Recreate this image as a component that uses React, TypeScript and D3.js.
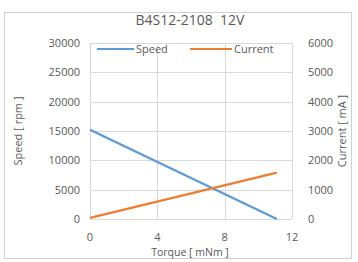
import React from 'react';
import * as d3 from 'd3';

const torque = [0, 11.1];
const speed = [15200, 0];
const current = [40, 1580];

const xTicks = [0, 4, 8, 12];
const speedTicks = [0, 5000, 10000, 15000, 20000, 25000, 30000];
const currentTicks = [0, 1000, 2000, 3000, 4000, 5000, 6000];

const W = 358;
const H = 262;
const font = "'Open Sans', 'Noto Sans', sans-serif";
const grey = '#595959';

const App: React.FC = () => {
  const x = d3.scaleLinear().domain([0, 12]).range([90, 292]);
  const yL = d3.scaleLinear().domain([0, 30000]).range([219, 43]);
  const yR = d3.scaleLinear().domain([0, 6000]).range([219, 43]);

  const speedPts = torque.map((t, i) => [x(t), yL(speed[i])] as [number, number]);
  const currentPts = torque.map((t, i) => [x(t), yR(current[i])] as [number, number]);
  const line = d3.line();

  return (
    <svg width={W} height={H} style={{ position: 'absolute', left: 0, top: 0 }} fontFamily={font}>
      <rect x={0} y={0} width={W} height={H} fill="#fff" />
      {/* chart frame */}
      <rect x={4.5} y={12.5} width={347} height={246} fill="#fff" stroke="#d0d0d0" />

      <text x={190} y={25} textAnchor="middle" fontSize={14} fill={grey}>
        B4S12-2108{'\u00a0\u00a0'}12V
      </text>

      {/* gridlines */}
      {speedTicks.map(t => (
        <line key={'h' + t} x1={90} x2={292} y1={Math.round(yL(t)) + 0.5} y2={Math.round(yL(t)) + 0.5} stroke="#d9d9d9" />
      ))}
      {xTicks.map(t => (
        <line key={'v' + t} x1={Math.round(x(t)) + 0.5} x2={Math.round(x(t)) + 0.5} y1={43} y2={219} stroke="#d9d9d9" />
      ))}

      {/* series */}
      <path d={line(speedPts) || ''} fill="none" stroke="#5b9bd5" strokeWidth={2.2} />
      <path d={line(currentPts) || ''} fill="none" stroke="#ed7d31" strokeWidth={2.2} />

      {/* left axis */}
      {speedTicks.map(t => (
        <text key={'l' + t} x={80} y={yL(t) + 4} textAnchor="end" fontSize={11} fill={grey}>
          {t}
        </text>
      ))}
      {/* right axis */}
      {currentTicks.map(t => (
        <text key={'r' + t} x={308} y={yR(t) + 4} textAnchor="start" fontSize={11} fill={grey}>
          {t}
        </text>
      ))}
      {/* x axis */}
      {xTicks.map(t => (
        <text key={'x' + t} x={x(t)} y={241} textAnchor="middle" fontSize={11} fill={grey}>
          {t}
        </text>
      ))}

      <text x={190} y={256} textAnchor="middle" fontSize={10.5} fill={grey}>Torque [ mNm ]</text>
      <text transform="translate(22,131) rotate(-90)" textAnchor="middle" fontSize={11} fill={grey}>Speed [ rpm ]</text>
      <text transform="translate(346,131) rotate(-90)" textAnchor="middle" fontSize={11} fill={grey}>Current [ mA ]</text>

      {/* legend */}
      <line x1={97} x2={134} y1={49} y2={49} stroke="#5b9bd5" strokeWidth={2} />
      <text x={136} y={53} fontSize={11} fill={grey}>Speed</text>
      <line x1={190} x2={232} y1={49} y2={49} stroke="#ed7d31" strokeWidth={2} />
      <text x={234} y={53} fontSize={11} fill={grey}>Current</text>
    </svg>
  );
};

export default App;
